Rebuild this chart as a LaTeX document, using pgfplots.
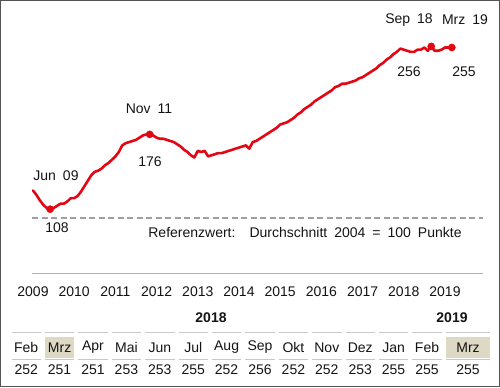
\documentclass[border=0pt]{standalone}
\usepackage{pgfplots}
\pgfplotsset{compat=1.18}
\usepackage{fontspec}
\setmainfont{Liberation Sans}[WordSpace=1.8]
\definecolor{lred}{RGB}{227,6,19}
\definecolor{tgrey}{RGB}{200,200,200}
\definecolor{hl}{RGB}{221,217,196}
\definecolor{framec}{RGB}{85,85,85}
\definecolor{txt}{RGB}{20,20,20}
\begin{document}
\begin{tikzpicture}[x=1bp,y=1bp,
  every node/.style={font=\fontsize{14bp}{16bp}\selectfont, inner sep=0pt, text=txt}]
\useasboundingbox (0,0) rectangle (500,387);
\draw[framec, line width=1.4bp] (0.7,0.7) rectangle (499.3,386.3);
\begin{axis}[at={(32bp,113.7bp)}, anchor=south west, scale only axis,
  width=451bp, height=253.3bp,
  xmin=-0.291, xmax=131.08, ymin=49.7, ymax=280,
  axis x line=bottom, axis y line=none,
  x axis line style={-, draw=gray!60, line width=1bp},
  xtick={0,12,24,36,48,60,72,84,96,108,120},
  xticklabels={2009,2010,2011,2012,2013,2014,2015,2016,2017,2018,2019},
  ytick=\empty, major tick length=0pt,
  xticklabel style={anchor=center, yshift=-18.7bp, font=\fontsize{14bp}{16bp}\selectfont, text=txt},
  clip=false]
\addplot[gray!75, line width=1.6bp, dash pattern=on 6bp off 3.5bp] coordinates {(-0.29,100) (131.08,100)};
\addplot[lred, line width=2.6bp, line join=round, line cap=round] coordinates {
(0,125) (1,121) (2,116) (3,112) (4,109) (5,108) (6,109) (7,111) (8,113) (9,113)
(10,115) (11,118) (12,118) (13,120) (14,124) (15,129) (16,134) (17,139) (18,142) (19,143)
(20,145) (21,148) (22,150) (23,153) (24,156) (25,160) (26,166) (27,168) (28,169) (29,170)
(30,171) (31,173) (32,175) (33,176) (34,176) (35,175) (36,173) (37,172) (38,172) (39,171)
(40,170) (41,169) (42,167) (43,165) (44,162) (45,160) (46,157) (47,155) (48,161) (49,160)
(50,161) (51,156) (52,157) (53,158) (54,159) (55,159) (56,160) (57,161) (58,162) (59,163)
(60,164) (61,165) (62,166) (63,163) (64,169) (65,170) (66,172) (67,174) (68,176) (69,178)
(70,180) (71,182) (72,185) (73,186) (74,187) (75,189) (76,191) (77,194) (78,196) (79,199)
(80,201) (81,203) (82,206) (83,208) (84,210) (85,212) (86,214) (87,216) (88,219) (89,220)
(90,222) (91,222) (92,223) (93,224) (94,225) (95,227) (96,228) (97,230) (98,232) (99,234)
(100,236) (101,239) (102,241) (103,244) (104,246) (105,249) (106,251) (107,254) (108,253) (109,252)
(110,251) (111,251) (112,253) (113,253) (114,255) (115,252) (116,256) (117,252) (118,252) (119,253)
(120,255) (121,255) (122,255)};
\addplot[only marks, mark=*, mark size=3.6bp, lred] coordinates {(5,108) (34,176) (116,256) (122,255)};
\end{axis}
% annotations
\node at (56,211) {Jun 09};
\node at (57,159) {108};
\node at (149,278) {Nov 11};
\node at (150,225) {176};
\node at (409,367) {Sep 18};
\node at (465,367) {Mrz 19};
\node at (409,315) {256};
\node at (464,315) {255};
\node at (305,155) {Referenzwert:\ \ Durchschnitt 2004 = 100 Punkte};
% table
\fill[hl] (44.9,28.7) rectangle (74.4,49.7);
\fill[hl] (446,28.7) rectangle (490,49.7);
\foreach \i in {0,...,12}{
  \draw[tgrey, line width=1.7bp] ({11.5+33.4*\i},54.5) -- ({41+33.4*\i},54.5);
  \draw[tgrey, line width=1.7bp] ({11.5+33.4*\i},27.5) -- ({41+33.4*\i},27.5);
}
\draw[tgrey, line width=1.7bp] (446,54.5) -- (490,54.5);
\draw[tgrey, line width=1.7bp] (446,27.5) -- (490,27.5);
\node[font=\fontsize{14bp}{16bp}\selectfont\bfseries] at (211,69.5) {2018};
\node[font=\fontsize{14bp}{16bp}\selectfont\bfseries] at (452,69.5) {2019};
\foreach \i/\mo/\val in {0/Feb/252,1/Mrz/251,2/Apr/251,3/Mai/253,4/Jun/253,5/Jul/255,6/Aug/252,7/Sep/256,8/Okt/252,9/Nov/252,10/Dez/253,11/Jan/255,12/Feb/255}{
  \node at ({26.2+33.4*\i},39.5) {\mo};
  \node at ({26.2+33.4*\i},17) {\val};
}
\node at (468,39.5) {Mrz};
\node at (468,17) {255};
\end{tikzpicture}
\end{document}
